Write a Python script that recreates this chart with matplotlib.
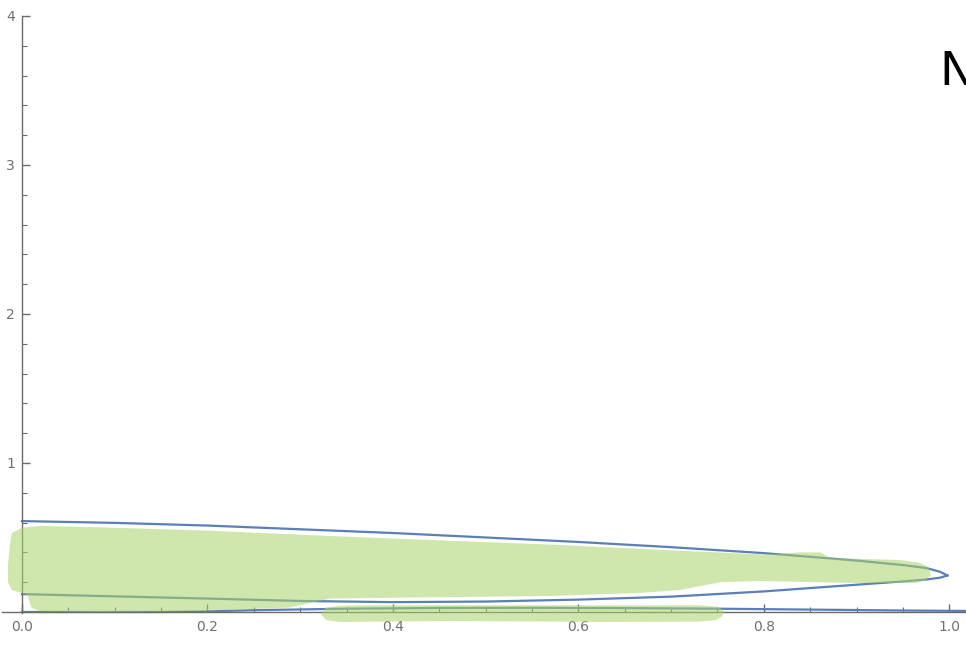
import matplotlib.pyplot as plt
import numpy as np
from matplotlib.patches import Polygon
from matplotlib.ticker import MultipleLocator, FixedLocator, FormatStrFormatter

# closed loop: upper and lower branch
loop_x = [0.0, 0.1, 0.2, 0.3, 0.4, 0.5, 0.6, 0.7, 0.8, 0.9, 0.95, 0.975, 0.99, 0.998]
loop_upper = [0.61, 0.598, 0.58, 0.555, 0.53, 0.5, 0.47, 0.435, 0.395, 0.345, 0.315, 0.295, 0.27, 0.245]
loop_lower = [0.12, 0.105, 0.09, 0.074, 0.066, 0.07, 0.083, 0.103, 0.138, 0.183, 0.205, 0.218, 0.23, 0.245]

# second curve hugging the x axis
low_x = [0.0, 0.15, 0.2, 0.25, 0.35, 0.45, 0.55, 0.65, 0.75, 0.85, 0.95, 1.02]
low_y = [0.0, 0.0, 0.004, 0.012, 0.022, 0.027, 0.028, 0.026, 0.022, 0.016, 0.01, 0.007]

# green highlighter strokes
hl_main_x = [-0.013, -0.011, 0.0, 0.019, 0.084, 0.192, 0.332, 0.462, 0.58, 0.677, 0.75, 0.8,
             0.84, 0.861, 0.872, 0.947, 0.968, 0.978, 0.98, 0.975, 0.965, 0.893, 0.796, 0.753,
             0.71, 0.667, 0.57, 0.462, 0.332, 0.289, 0.192, 0.084, 0.02, 0.01, 0.006, -0.011,
             -0.015, -0.015]
hl_main_y = [0.45, 0.53, 0.565, 0.578, 0.568, 0.548, 0.51, 0.478, 0.45, 0.42, 0.4, 0.385,
             0.4, 0.4, 0.362, 0.349, 0.33, 0.3, 0.248, 0.215, 0.195, 0.195, 0.208, 0.2,
             0.148, 0.128, 0.107, 0.1, 0.09, 0.03, 0.007, 0.0, 0.005, 0.03, 0.114, 0.148,
             0.2, 0.32]
hl_low_x = [0.327, 0.34, 0.365, 0.462, 0.57, 0.731, 0.75, 0.757, 0.755, 0.748, 0.73, 0.624,
            0.462, 0.343, 0.328, 0.323]
hl_low_y = [0.03, 0.04, 0.045, 0.045, 0.045, 0.045, 0.035, 0.01, -0.03, -0.054, -0.065, -0.067,
            -0.06, -0.067, -0.055, -0.02]

blue = '#5b7fb6'
green = (0.66, 0.83, 0.42)
gray = '#6b6b6b'

fig = plt.figure(figsize=(9.66, 6.47), dpi=100)
ax = fig.add_axes([0, 0, 1, 1])
ax.set_xlim(-0.0237, 1.018)
ax.set_ylim(-0.235, 4.107)

# curves
ax.plot(loop_x, loop_upper, color=blue, lw=1.6, zorder=2)
ax.plot(loop_x, loop_lower, color=blue, lw=1.6, zorder=2)
ax.plot(low_x, low_y, color=blue, lw=1.6, zorder=2)

# highlighter on top, translucent
for hx, hy in [(hl_main_x, hl_main_y), (hl_low_x, hl_low_y)]:
    p = Polygon(np.column_stack([hx, hy]), closed=True, facecolor=green, edgecolor='none',
                alpha=0.55, zorder=3)
    ax.add_patch(p)

# mathematica-like axes through the origin
for s in ['top', 'right']:
    ax.spines[s].set_visible(False)
ax.spines['left'].set_position(('data', 0))
ax.spines['bottom'].set_position(('data', 0))
ax.spines['left'].set_bounds(-0.01, 4.0)
ax.spines['bottom'].set_bounds(-0.022, 1.018)
for s in ['left', 'bottom']:
    ax.spines[s].set_color(gray)
    ax.spines[s].set_linewidth(1.0)

ax.xaxis.set_major_locator(MultipleLocator(0.2))
ax.xaxis.set_minor_locator(FixedLocator(np.arange(0.05, 1.0, 0.05)))
ax.xaxis.set_major_formatter(FormatStrFormatter('%.1f'))
ax.set_yticks([1, 2, 3, 4])
ax.yaxis.set_minor_locator(FixedLocator(np.arange(0.2, 4.0, 0.2)))

ax.tick_params(which='both', direction='in', color=gray, labelcolor='#707070', labelsize=10)
ax.tick_params(which='major', length=6, width=1.0)
ax.tick_params(which='minor', length=3.5, width=0.8)
ax.tick_params(axis='x', pad=6)
ax.tick_params(axis='y', pad=5)

fig.text(0.972, 0.869, 'N', fontsize=34, color='black', ha='left', va='baseline')

fig.savefig('out.png', dpi=100)
